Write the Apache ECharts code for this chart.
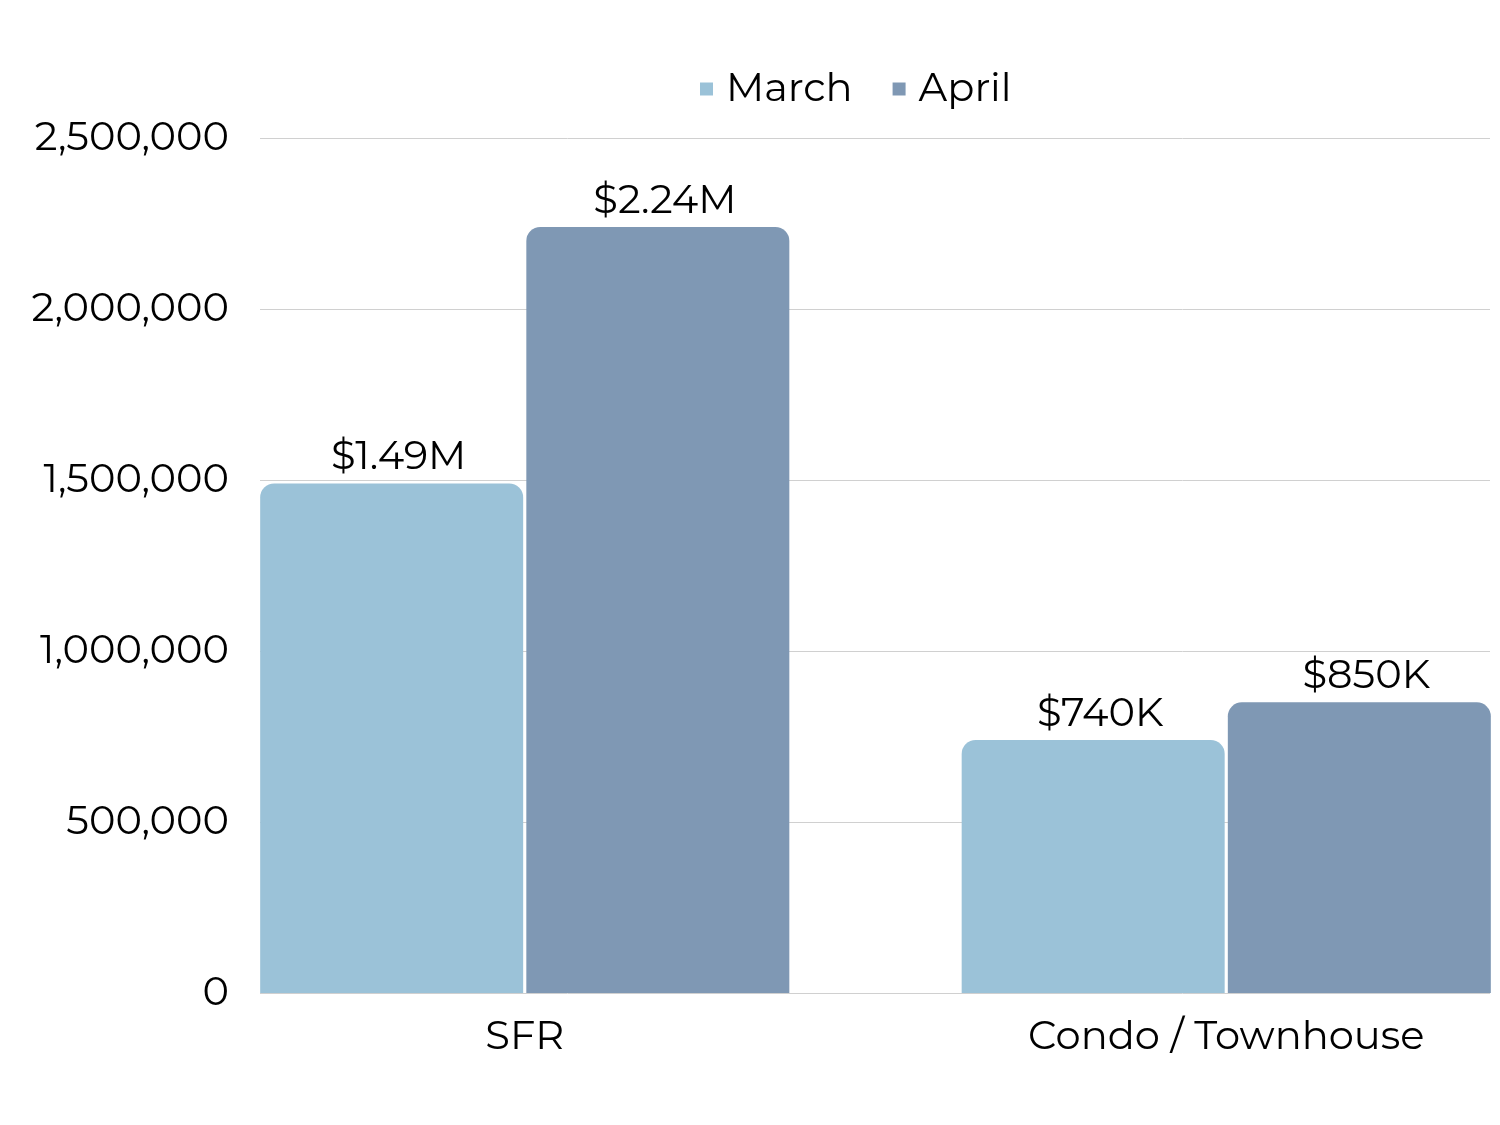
<!DOCTYPE html>
<html>
<head>
<meta charset="utf-8">
<script src="https://cdn.jsdelivr.net/npm/echarts@6/dist/echarts.min.js"></script>
<style>html,body{margin:0;padding:0;background:#fff}#c{width:1500px;height:1125px}</style>
</head>
<body>
<div id="c"></div>
<script>
const categories = ['SFR', 'Condo / Townhouse'];
const seriesNames = ['March', 'April'];
const marchValues = [1490000, 740000];
const aprilValues = [2240000, 850000];
const marchLabels = ['$1.49M', '$740K'];
const aprilLabels = ['$2.24M', '$850K'];
const yTicks = [0, 500000, 1000000, 1500000, 2000000, 2500000];

const FONT = 'Montserrat, "DejaVu Sans", sans-serif';
const chart = echarts.init(document.getElementById('c'));
const lbl = (arr) => ({
  show: true, position: 'top', distance: 6, offset: [7, 0], color: '#000', fontSize: 40, fontFamily: FONT,
  formatter: p => arr[p.dataIndex]
});
chart.setOption({
  animation: false,
  legend: {
    data: seriesNames, left: 695, top: 64, icon: 'rect', itemWidth: 13, itemHeight: 13, itemGap: 40,
    textStyle: { fontSize: 40, color: '#000', fontFamily: FONT, padding: [0, 0, 0, 8] }
  },
  grid: [
    { left: 260, right: 10, top: 138, bottom: 132, outerBoundsMode: 'none', containLabel: false },
    { left: 174, right: -77, top: 138, bottom: 132, outerBoundsMode: 'none', containLabel: false }
  ],
  xAxis: [
    { gridIndex: 0, type: 'value', show: false },
    { gridIndex: 1, type: 'category', data: categories,
      axisLine: { show: false }, axisTick: { show: false },
      axisLabel: { fontSize: 40, color: '#000', margin: 24, fontFamily: FONT } }
  ],
  yAxis: [
    { gridIndex: 0, type: 'value', min: yTicks[0], max: yTicks[yTicks.length - 1], interval: 500000,
      axisLine: { show: false }, axisTick: { show: false },
      splitLine: { lineStyle: { color: '#d0d0d0', width: 1 } },
      axisLabel: { fontSize: 40, color: '#000', margin: 31, fontFamily: FONT,
        formatter: v => v.toLocaleString('en-US') } },
    { gridIndex: 1, type: 'value', min: yTicks[0], max: yTicks[yTicks.length - 1], show: false }
  ],
  series: [
    { name: 'March', type: 'bar', xAxisIndex: 1, yAxisIndex: 1, data: marchValues,
      barWidth: 263, barGap: '1.2%',
      itemStyle: { color: '#9BC2D8', borderRadius: [14, 14, 0, 0] }, label: lbl(marchLabels) },
    { name: 'April', type: 'bar', xAxisIndex: 1, yAxisIndex: 1, data: aprilValues,
      barWidth: 263, barGap: '1.2%',
      itemStyle: { color: '#7F98B4', borderRadius: [14, 14, 0, 0] }, label: lbl(aprilLabels) }
  ]
});
</script>
</body>
</html>
